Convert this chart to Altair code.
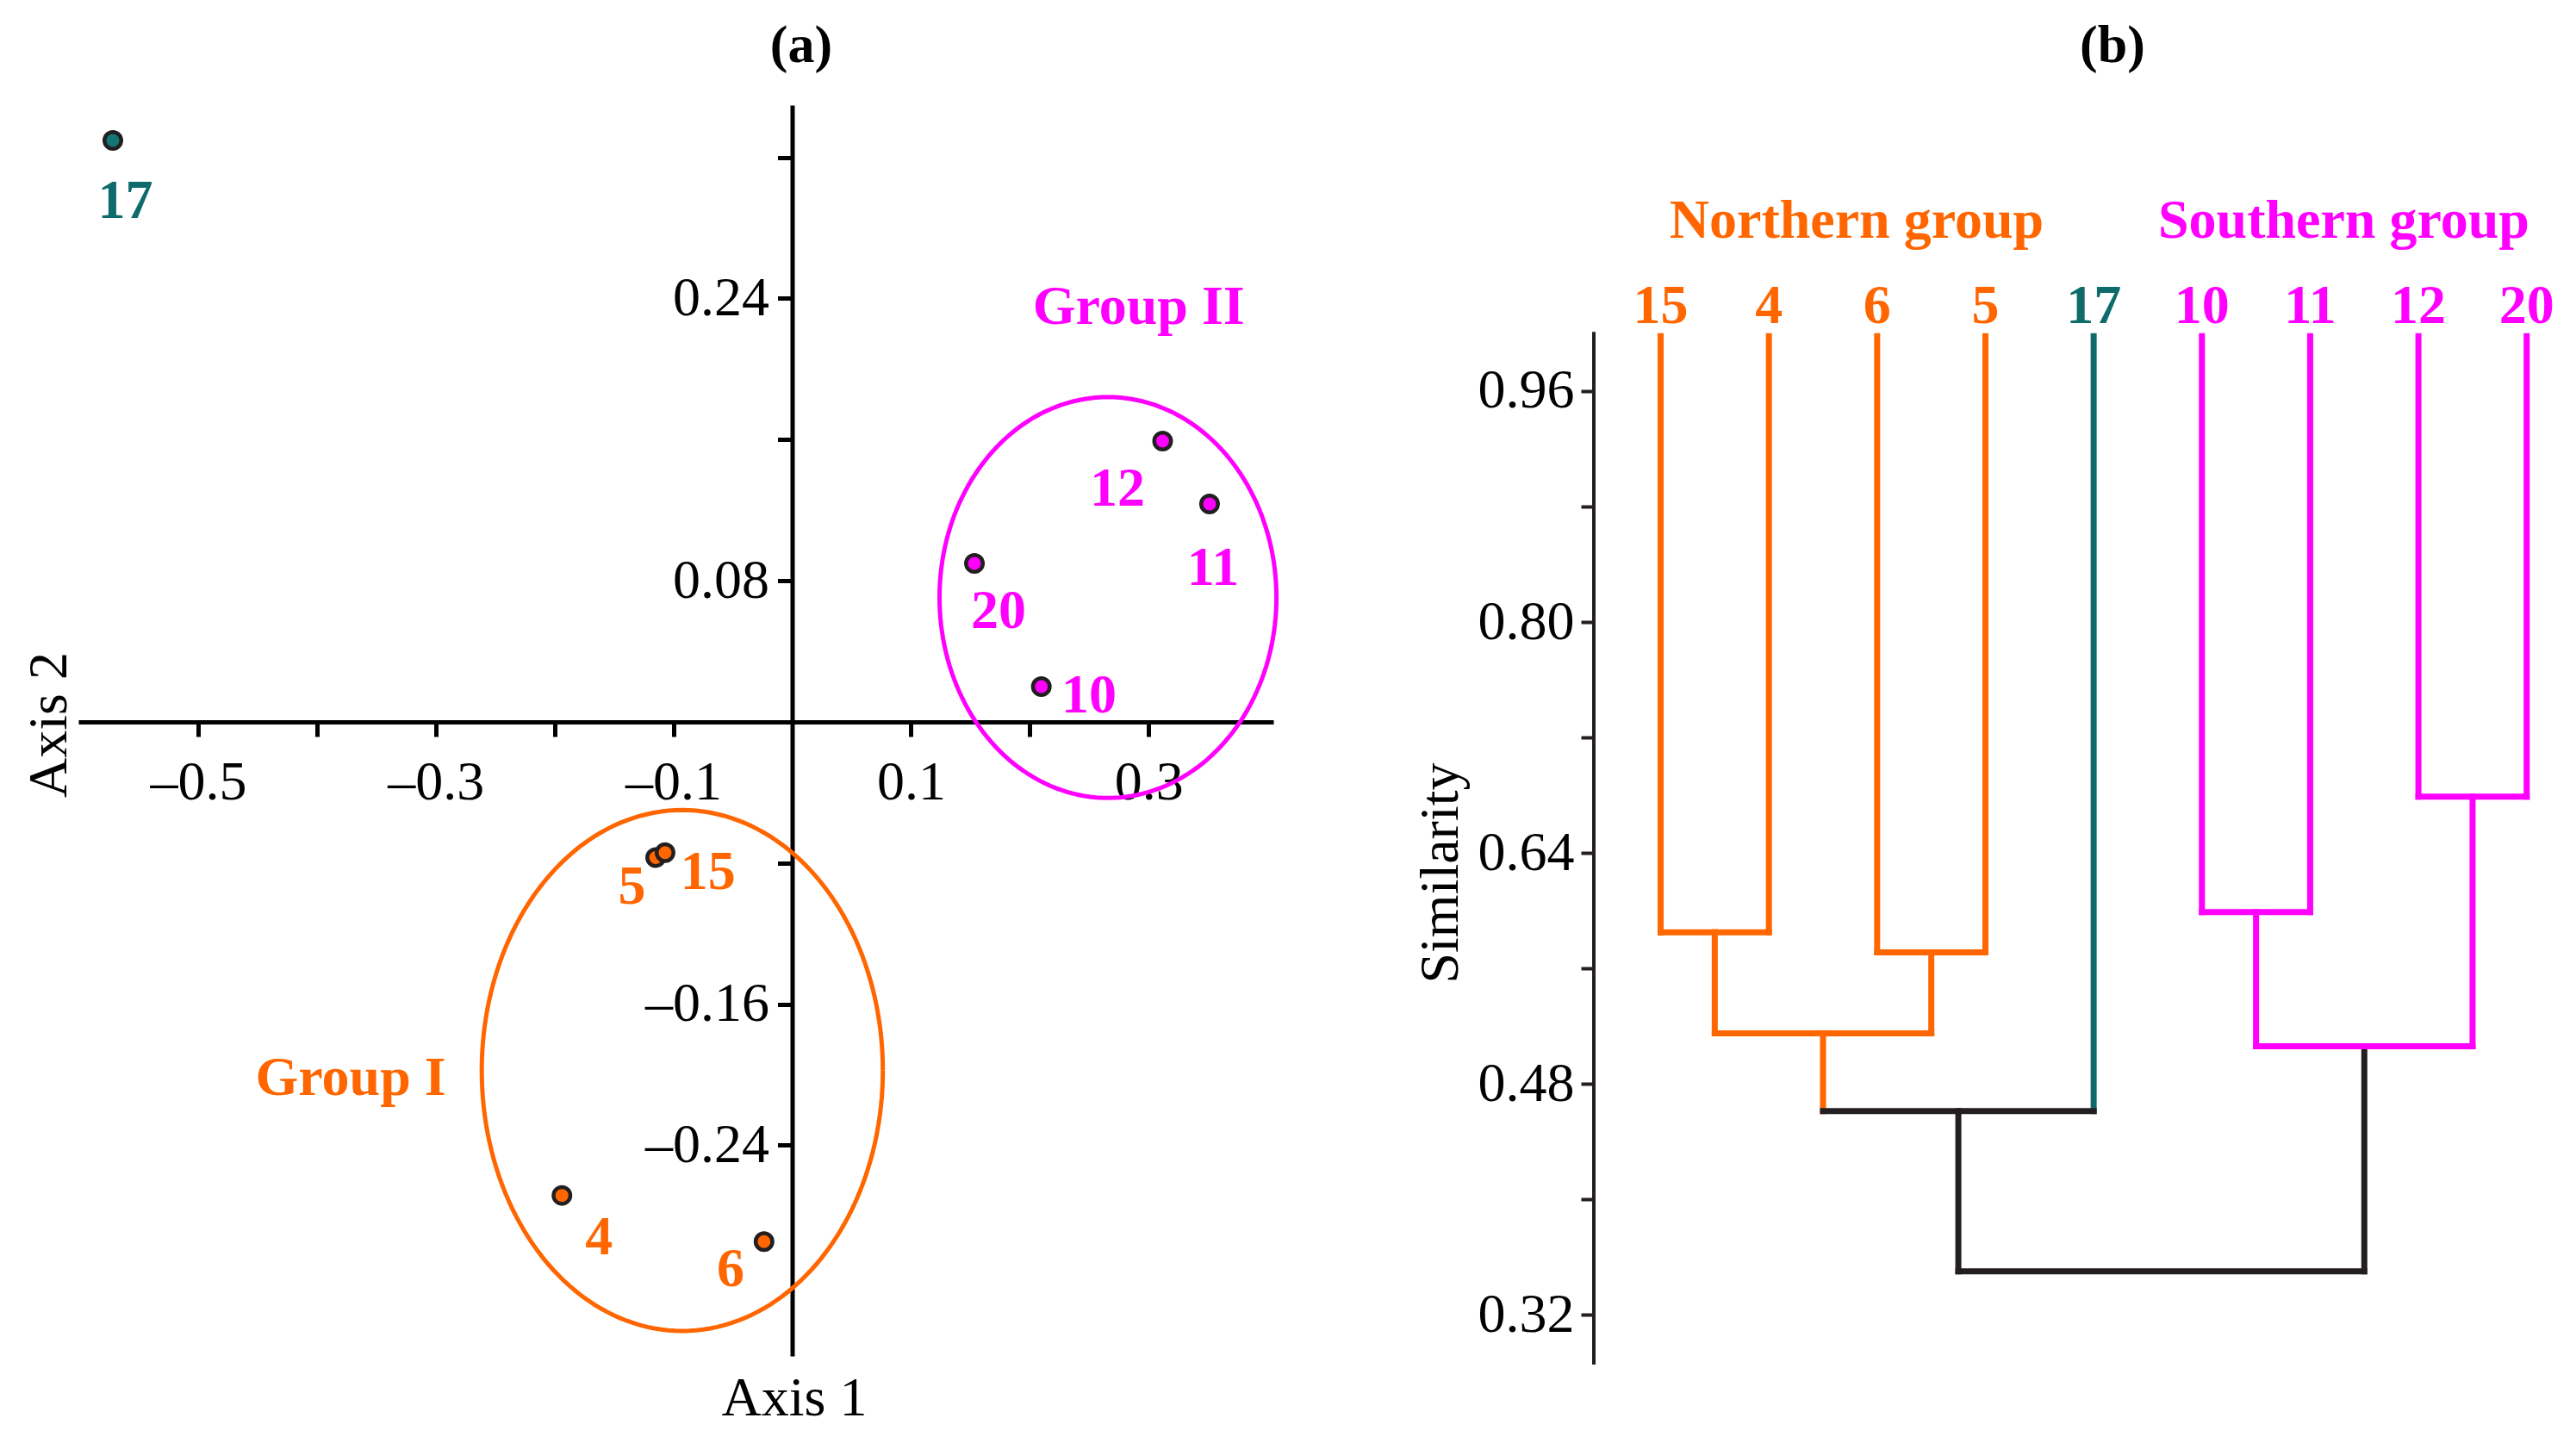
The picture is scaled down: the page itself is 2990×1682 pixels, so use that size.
import altair as alt
import pandas as pd

ORANGE = "#FF6600"
MAGENTA = "#FF00FF"
TEAL = "#0F6B6B"
TEAL_FILL = "#137777"
BLACK = "#231F20"
FONT = "Liberation Serif"

# ---------------- Panel (a): ordination ----------------
pt_id = ["17", "12", "11", "20", "10", "5", "15", "4", "6"]
pt_grp = ["out", "II", "II", "II", "II", "I", "I", "I", "I"]
pt_x = [-0.5718, 0.3118, 0.3513, 0.1534, 0.2097, -0.1149, -0.1070, -0.1938, -0.0237]
pt_y = [0.3296, 0.1592, 0.1235, 0.0898, 0.0200, -0.0769, -0.0741, -0.2684, -0.2946]
# label offsets from each point (data units)
lab_dx = [0.0105, -0.0381, 0.0030, 0.0203, 0.0401, -0.0199, 0.0362, 0.0312, -0.0282]
lab_dy = [-0.0347, -0.0272, -0.0366, -0.0271, -0.0052, -0.0170, -0.0113, -0.0240, -0.0161]

ell_name = ["Group I", "Group II"]
ell_grp = ["I", "II"]
ell_cx = [-0.0925, 0.2658]
ell_cy = [-0.1976, 0.0705]
ell_rx = [0.1688, 0.1418]
ell_ry = [0.1476, 0.1136]
glab_x = [-0.3716, 0.2917]
glab_y = [-0.2024, 0.2349]

xa_ticks = [-0.5, -0.4, -0.3, -0.2, -0.1, 0.1, 0.2, 0.3]
ya_ticks = [0.32, 0.24, 0.16, 0.08, -0.08, -0.16, -0.24]

XA_DOM = [-0.6008, 0.405]
YA_DOM = [-0.3594, 0.3496]
W_A, H_A = 1387, 1452

grp_dom = ["I", "II", "out"]
col_scale = alt.Scale(domain=grp_dom, range=[ORANGE, MAGENTA, TEAL])
fill_scale = alt.Scale(domain=grp_dom, range=[ORANGE, MAGENTA, TEAL_FILL])

xs_a = alt.Scale(domain=XA_DOM, nice=False, zero=False)
ys_a = alt.Scale(domain=YA_DOM, nice=False, zero=False)

x0_px = (0 - XA_DOM[0]) / (XA_DOM[1] - XA_DOM[0]) * W_A
y0_px = (YA_DOM[1] - 0) / (YA_DOM[1] - YA_DOM[0]) * H_A

pts = pd.DataFrame({"id": pt_id, "grp": pt_grp, "x": pt_x, "y": pt_y,
                    "dx": lab_dx, "dy": lab_dy})
glabs = pd.DataFrame({"name": ell_name, "grp": ell_grp, "x": glab_x, "y": glab_y})

x_axis_a = alt.Axis(
    values=xa_ticks, orient="bottom", offset=-(H_A - y0_px), grid=False,
    domainColor="black", domainWidth=5, tickColor="black", tickWidth=5, tickSize=17,
    labelFont=FONT, labelFontSize=64, labelColor="black", labelPadding=22,
    labelOverlap=False, labelFlush=False,
    labelExpr="indexof([-5,-3,-1,1,3], round(datum.value*10)) >= 0 ? "
              "(datum.value < 0 ? '\u2013' + format(-datum.value, '.1f') : format(datum.value, '.1f')) : ''",
    title="Axis 1", titleFont=FONT, titleFontSize=64, titleFontWeight="normal",
    titleColor="black", titleX=x0_px + 2, titleY=786, titleAlign="center",
    titleBaseline="middle",
)
y_axis_a = alt.Axis(
    values=ya_ticks, orient="left", offset=-x0_px, grid=False,
    domainColor="black", domainWidth=5, tickColor="black", tickWidth=5, tickSize=17,
    labelFont=FONT, labelFontSize=64, labelColor="black", labelPadding=10,
    labelOverlap=False, labelFlush=False,
    labelExpr="indexof([24,8,-16,-24], round(datum.value*100)) >= 0 ? "
              "(datum.value < 0 ? '\u2013' + format(-datum.value, '.2f') : format(datum.value, '.2f')) : ''",
    title="Axis 2", titleFont=FONT, titleFontSize=64, titleFontWeight="normal",
    titleColor="black", titleX=-862, titleY=719, titleAngle=270, titleAlign="center",
    titleBaseline="middle",
)


def xa(field):
    return alt.X(field, scale=xs_a, axis=x_axis_a)


def ya(field):
    return alt.Y(field, scale=ys_a, axis=y_axis_a)


ellipse_layers = []
for i in range(len(ell_name)):
    c = ORANGE if ell_grp[i] == "I" else MAGENTA
    ellipse_layers.append(
        alt.Chart(alt.sequence(0, 362, 2, as_="t"))
        .transform_calculate(
            x=f"{ell_cx[i]} + {ell_rx[i]} * cos(datum.t * PI / 180)",
            y=f"{ell_cy[i]} + {ell_ry[i]} * sin(datum.t * PI / 180)",
        )
        .mark_line(color=c, strokeWidth=5)
        .encode(x=xa("x:Q"), y=ya("y:Q"), order="t:Q")
    )

points = alt.Chart(pts).mark_point(
    filled=True, shape="circle", size=380, stroke=BLACK, strokeWidth=4.5, opacity=1
).encode(
    x=xa("x:Q"), y=ya("y:Q"),
    fill=alt.Fill("grp:N", scale=fill_scale, legend=None),
)

pt_labels = alt.Chart(pts).transform_calculate(
    x="datum.x + datum.dx", y="datum.y + datum.dy"
).mark_text(font=FONT, fontWeight="bold", fontSize=64, align="center", baseline="middle").encode(
    x=xa("x:Q"), y=ya("y:Q"),
    text="id:N",
    color=alt.Color("grp:N", scale=col_scale, legend=None),
)

grp_labels = alt.Chart(glabs).mark_text(
    font=FONT, fontWeight="bold", fontSize=64, align="center", baseline="middle"
).encode(
    x=xa("x:Q"), y=ya("y:Q"),
    text="name:N",
    color=alt.Color("grp:N", scale=col_scale, legend=None),
)

panel_a = alt.layer(points, *ellipse_layers, pt_labels, grp_labels).properties(
    width=W_A, height=H_A,
    title=alt.TitleParams("(a)", font=FONT, fontSize=62, fontWeight="bold", color="black",
                          anchor="middle", frame="group", dx=145.5, offset=37),
)

# ---------------- Panel (b): dendrogram ----------------
leaf_order = ["15", "4", "6", "5", "17", "10", "11", "12", "20"]
leaf_color = [ORANGE, ORANGE, ORANGE, ORANGE, TEAL, MAGENTA, MAGENTA, MAGENTA, MAGENTA]
leaf_top = 0.998

node_name = ["A", "B", "C", "D", "E", "F", "G", "R"]
node_left = ["15", "6", "A", "C", "10", "12", "E", "D"]
node_right = ["4", "5", "B", "17", "11", "20", "F", "G"]
node_height = [0.585, 0.571, 0.515, 0.461, 0.599, 0.679, 0.506, 0.350]
node_bar_color = [ORANGE, ORANGE, ORANGE, BLACK, MAGENTA, MAGENTA, MAGENTA, BLACK]
node_stem_color = [ORANGE, ORANGE, ORANGE, BLACK, MAGENTA, MAGENTA, BLACK, BLACK]

group_label = ["Northern group", "Southern group"]
group_label_color = [ORANGE, MAGENTA]
group_label_x = [1.81, 6.31]
group_label_y = [1.0776, 1.0776]
leaf_label_y = 1.0185

yb_ticks = [0.32, 0.40, 0.48, 0.56, 0.64, 0.72, 0.80, 0.88, 0.96]
yb_axis_span = [0.2854, 1.001]

XB_DOM = [-0.617, 8.36]
YB_DOM = [0.2854, 1.1582]
W_B, H_B = 1128, 1462

pos = {lf: i for i, lf in enumerate(leaf_order)}
hgt = {lf: leaf_top for lf in leaf_order}
stem = dict(zip(leaf_order, leaf_color))
vert_rows, horiz_rows = [], []
for n, l, r, h, bc, sc in zip(node_name, node_left, node_right, node_height,
                              node_bar_color, node_stem_color):
    for ch in (l, r):
        vert_rows.append({"x": pos[ch], "x2": pos[ch], "y": hgt[ch], "y2": h, "c": stem[ch]})
    horiz_rows.append({"x": pos[l], "x2": pos[r], "y": h, "y2": h, "c": bc})
    pos[n] = (pos[l] + pos[r]) / 2
    hgt[n] = h
    stem[n] = sc
segs = pd.DataFrame(vert_rows + horiz_rows)

xs_b = alt.Scale(domain=XB_DOM, nice=False, zero=False)
ys_b = alt.Scale(domain=YB_DOM, nice=False, zero=False)

y_axis_b = alt.Axis(
    values=yb_ticks, orient="left", grid=False, domain=False,
    tickColor=BLACK, tickWidth=4, tickSize=15,
    labelFont=FONT, labelFontSize=64, labelColor="black", labelPadding=8,
    labelOverlap=False, labelFlush=False,
    labelExpr="indexof([32,48,64,80,96], round(datum.value*100)) >= 0 ? format(datum.value, '.2f') : ''",
    title="Similarity", titleFont=FONT, titleFontSize=64, titleFontWeight="normal",
    titleColor="black", titleX=-178, titleY=891, titleAngle=270, titleAlign="center",
    titleBaseline="middle",
)


def xb(field):
    return alt.X(field, scale=xs_b, axis=None)


def yb(field):
    return alt.Y(field, scale=ys_b, axis=y_axis_b)


axis_line = alt.Chart(pd.DataFrame({"y": [yb_axis_span[0]], "y2": [yb_axis_span[1]]})).mark_rule(
    color=BLACK, strokeWidth=4
).encode(
    x=alt.value(0),
    y=yb("y:Q"),
    y2="y2:Q",
)

segments = alt.Chart(segs).mark_rule(strokeWidth=7, strokeCap="square").encode(
    x=xb("x:Q"), x2="x2:Q",
    y=yb("y:Q"), y2="y2:Q",
    color=alt.Color("c:N", scale=None),
)

leaves = pd.DataFrame({"leaf": leaf_order, "x": list(range(len(leaf_order))),
                       "c": leaf_color, "y": [leaf_label_y] * len(leaf_order)})
leaf_labels = alt.Chart(leaves).mark_text(
    font=FONT, fontWeight="bold", fontSize=64, align="center", baseline="middle"
).encode(
    x=xb("x:Q"), y=yb("y:Q"),
    text="leaf:N",
    color=alt.Color("c:N", scale=None),
)

glab_b = pd.DataFrame({"t": group_label, "c": group_label_color,
                       "x": group_label_x, "y": group_label_y})
group_labels_b = alt.Chart(glab_b).mark_text(
    font=FONT, fontWeight="bold", fontSize=64, align="center", baseline="middle"
).encode(
    x=xb("x:Q"), y=yb("y:Q"),
    text="t:N",
    color=alt.Color("c:N", scale=None),
)

panel_b = alt.layer(axis_line, segments, leaf_labels, group_labels_b).properties(
    width=W_B, height=H_B,
    title=alt.TitleParams("(b)", font=FONT, fontSize=62, fontWeight="bold", color="black",
                          anchor="middle", frame="group", dx=38, offset=37),
)

chart = alt.hconcat(panel_a, panel_b, spacing=148).resolve_scale(
    x="independent", y="independent", color="independent", fill="independent"
).properties(
    padding={"left": 17, "top": 14, "right": 0, "bottom": 0},
    background="white",
).configure_view(stroke=None)

chart.save("out.html", embed_options={"renderer": "svg", "actions": False})
